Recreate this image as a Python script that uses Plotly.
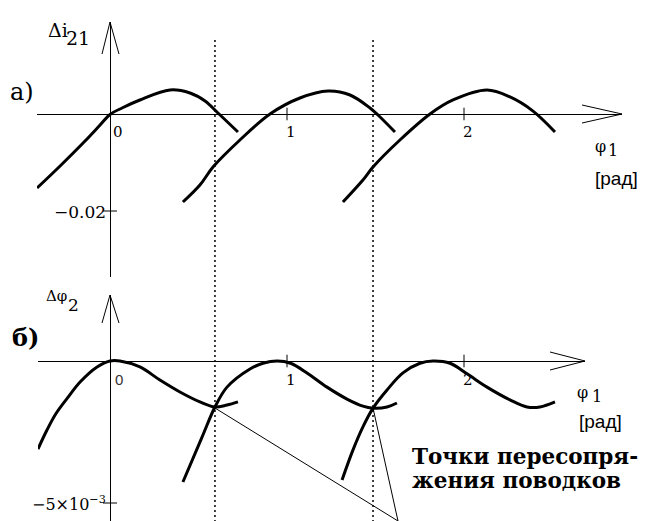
import plotly.graph_objects as go

# ---------------- data ----------------
# panel a) : delta i21 vs phi1 [rad], three branches
top_b1_x = [-0.412, -0.282, -0.141, -0.056, 0.0, 0.068, 0.169, 0.339, 0.452, 0.537, 0.610, 0.723]
top_b1_y = [-0.01526, -0.01072, -0.00557, -0.00227, -0.00010, 0.00124, 0.00289, 0.00495, 0.00433, 0.00268, 0.00021, -0.00371]
top_b2_x = [0.412, 0.508, 0.582, 0.734, 0.904, 1.073, 1.232, 1.356, 1.469, 1.514, 1.610]
top_b2_y = [-0.01814, -0.01464, -0.01093, -0.00536, 0.0, 0.00330, 0.00474, 0.00392, 0.00124, -0.00021, -0.00371]
top_b3_x = [1.316, 1.429, 1.486, 1.638, 1.808, 1.938, 2.130, 2.260, 2.390, 2.514]
top_b3_y = [-0.01814, -0.01361, -0.01093, -0.00536, 0.0, 0.00289, 0.00495, 0.00351, 0.00060, -0.00371]

# panel б) : delta phi2 vs phi1 [rad], three branches
bot_b1_x = [-0.407, -0.356, -0.305, -0.240, -0.169, -0.073, 0.0, 0.056, 0.169, 0.282, 0.395, 0.508, 0.593, 0.661, 0.723]
bot_b1_y = [-0.00310, -0.00243, -0.00185, -0.00130, -0.00074, -0.00021, 0.0, 0.0, -0.00021, -0.00067, -0.00109, -0.00144, -0.00162, -0.00155, -0.00144]
bot_b2_x = [0.412, 0.520, 0.593, 0.661, 0.791, 0.864, 0.945, 1.020, 1.113, 1.226, 1.339, 1.429, 1.486, 1.565, 1.621]
bot_b2_y = [-0.00426, -0.00268, -0.00162, -0.00092, -0.00028, -0.00008, 0.0, -0.00008, -0.00042, -0.00092, -0.00134, -0.00159, -0.00166, -0.00162, -0.00148]
bot_b3_x = [1.311, 1.373, 1.429, 1.486, 1.565, 1.655, 1.751, 1.825, 1.921, 2.017, 2.130, 2.260, 2.356, 2.429, 2.514]
bot_b3_y = [-0.00419, -0.00313, -0.00232, -0.00166, -0.00102, -0.00042, -0.00008, 0.0, -0.00008, -0.00045, -0.00092, -0.00137, -0.00162, -0.00162, -0.00144]

# tick positions / labels
top_xticks = [1, 2]
top_xtick_labels = ["1", "2"]
top_ytick = [-0.02]
top_ytick_label = ["\u22120.02"]
bot_xticks = [1, 2]
bot_xtick_labels = ["1", "2"]
bot_ytick = [-0.005]
bot_ytick_label = ["\u22125\u00d710<sup>\u22123</sup>"]

# switching (re-engagement) points
switch_x = [0.593, 1.486]

# ---------------- geometry ----------------
PAGE_OFF = 8                           # default page margin of the html body
W, H = 648 - PAGE_OFF, 521 - PAGE_OFF
X0, KX = 110.0, 177.0                  # pixel of phi=0, pixels per rad
TOP_Y0, TOP_KY = 114.0, 97.0 / 0.02    # top panel zero pixel, px per unit
BOT_Y0, BOT_KY = 361.0, 142.0 / 0.005  # bottom panel


def xd(px):
    return (px - X0) / KX


def ytop(py):
    return (TOP_Y0 - py) / TOP_KY


def ybot(py):
    return (BOT_Y0 - py) / BOT_KY


def pxp(px):
    return (px - PAGE_OFF) / W


def pyp(py):
    return 1 - (py - PAGE_OFF) / H


SERIF = "DejaVu Serif"
SANS = "Liberation Sans"
BLACK = "black"

fig = go.Figure()

for xs, ys in [(top_b1_x, top_b1_y), (top_b2_x, top_b2_y), (top_b3_x, top_b3_y)]:
    fig.add_trace(go.Scatter(x=xs, y=ys, mode="lines", line=dict(color=BLACK, width=3, shape="spline"),
                             xaxis="x", yaxis="y", showlegend=False, hoverinfo="skip"))
for xs, ys in [(bot_b1_x, bot_b1_y), (bot_b2_x, bot_b2_y), (bot_b3_x, bot_b3_y)]:
    fig.add_trace(go.Scatter(x=xs, y=ys, mode="lines", line=dict(color=BLACK, width=3, shape="spline"),
                             xaxis="x2", yaxis="y2", showlegend=False, hoverinfo="skip"))

# tick marks
tick_ns = dict(symbol="line-ns-open", size=9, color=BLACK, line=dict(color=BLACK, width=1))
tick_ew = dict(symbol="line-ew-open", size=10, color=BLACK, line=dict(color=BLACK, width=1))
fig.add_trace(go.Scatter(x=top_xticks, y=[0] * len(top_xticks), mode="markers", xaxis="x", yaxis="y",
                         marker=tick_ns, showlegend=False, hoverinfo="skip"))
fig.add_trace(go.Scatter(x=[0] * len(top_ytick), y=top_ytick, mode="markers", xaxis="x", yaxis="y",
                         marker=tick_ew, showlegend=False, hoverinfo="skip"))
fig.add_trace(go.Scatter(x=bot_xticks, y=[0] * len(bot_xticks), mode="markers", xaxis="x2", yaxis="y2",
                         marker=tick_ns, showlegend=False, hoverinfo="skip"))
fig.add_trace(go.Scatter(x=[0] * len(bot_ytick), y=bot_ytick, mode="markers", xaxis="x2", yaxis="y2",
                         marker=tick_ew, showlegend=False, hoverinfo="skip"))

shapes = []


def arrow(xref, yref, tip, e1, e2):
    for e in (e1, e2):
        shapes.append(dict(type="line", xref=xref, yref=yref, x0=e[0], y0=e[1], x1=tip[0], y1=tip[1],
                           line=dict(color=BLACK, width=1)))


arrow("x", "y", (xd(110), ytop(22)), (xd(102), ytop(54)), (xd(119), ytop(54)))
arrow("x", "y", (xd(622), ytop(114)), (xd(582), ytop(105)), (xd(582), ytop(123)))
arrow("x2", "y2", (xd(110), ybot(295)), (xd(102), ybot(323)), (xd(119), ybot(323)))
arrow("x2", "y2", (xd(585), ybot(361)), (xd(550), ybot(352)), (xd(550), ybot(370)))

# dotted verticals through switching points
for sx in switch_x:
    shapes.append(dict(type="line", xref="x", yref="paper", x0=sx, x1=sx, y0=pyp(40), y1=0,
                       line=dict(color=BLACK, width=1.5, dash="2px,3px")))

# leader lines to the note
for sx in switch_x:
    shapes.append(dict(type="line", xref="x2", yref="y2", x0=sx, y0=ybot(408), x1=xd(398), y1=ybot(521),
                       line=dict(color=BLACK, width=1)))

ann = []


def lab(text, x, y, size, family=SERIF, xanchor="center", bold=False):
    t = "<b>%s</b>" % text if bold else text
    ann.append(dict(text=t, x=pxp(x), y=pyp(y), xref="paper", yref="paper", showarrow=False,
                    xanchor=xanchor, yanchor="middle", font=dict(family=family, size=size, color=BLACK)))


# axis titles
lab("\u0394i", 46, 30, 19, xanchor="left")
lab("21", 64, 38, 19, xanchor="left")
lab("a)", 22, 92, 24)
lab("\u03c6", 600, 146, 16)
lab("1", 613, 150, 16)
lab("[\u0440\u0430\u0434]", 616, 179, 19, family=SANS)

lab("\u0394\u03c6", 44, 296, 15, xanchor="left")
lab("2", 66, 305, 17, xanchor="left")
lab("\u0431)", 25, 337, 24, bold=True)
lab("\u03c6", 582, 392, 16)
lab("1", 597, 396, 16)
lab("[\u0440\u0430\u0434]", 600, 421, 19, family=SANS)

lab("\u0422\u043e\u0447\u043a\u0438 \u043f\u0435\u0440\u0435\u0441\u043e\u043f\u0440\u044f-", 410, 456, 21.5,
    bold=True, xanchor="left")
lab("\u0436\u0435\u043d\u0438\u044f \u043f\u043e\u0432\u043e\u0434\u043a\u043e\u0432", 410, 480, 21.5,
    bold=True, xanchor="left")

# tick labels (data-anchored)
ann.append(dict(text="0", x=0, y=0, xref="x", yref="y", showarrow=False, xshift=8, yshift=-18,
                font=dict(family=SERIF, size=15, color=BLACK)))
for v, t in zip(top_xticks, top_xtick_labels):
    ann.append(dict(text=t, x=v, y=0, xref="x", yref="y", showarrow=False, xshift=4, yshift=-18,
                    font=dict(family=SERIF, size=15, color=BLACK)))
for v, t in zip(top_ytick, top_ytick_label):
    ann.append(dict(text=t, x=0, y=v, xref="x", yref="y", showarrow=False, xanchor="right", xshift=-2, yshift=-1,
                    font=dict(family=SERIF, size=17, color=BLACK)))
ann.append(dict(text="0", x=0, y=0, xref="x2", yref="y2", showarrow=False, xshift=9, yshift=-18,
                font=dict(family=SANS, size=15, color="#333")))
for v, t in zip(bot_xticks, bot_xtick_labels):
    ann.append(dict(text=t, x=v, y=0, xref="x2", yref="y2", showarrow=False, xshift=4, yshift=-19,
                    font=dict(family=SERIF, size=15, color=BLACK)))
for v, t in zip(bot_ytick, bot_ytick_label):
    ann.append(dict(text=t, x=0, y=v, xref="x2", yref="y2", showarrow=False, xanchor="right", xshift=-2, yshift=0,
                    font=dict(family=SERIF, size=16, color=BLACK)))

hidden = dict(showgrid=False, showticklabels=False, ticks="", showline=False,
              zeroline=True, zerolinecolor=BLACK, zerolinewidth=1, fixedrange=True)

fig.update_layout(
    width=W, height=H, margin=dict(l=0, r=0, t=0, b=0),
    paper_bgcolor="white", plot_bgcolor="rgba(0,0,0,0)",
    showlegend=False,
    xaxis=dict(domain=[pxp(37), pxp(622)], range=[xd(37), xd(622)], anchor="y", **hidden),
    yaxis=dict(domain=[pyp(277), pyp(22)], range=[ytop(277), ytop(22)], anchor="x", **hidden),
    xaxis2=dict(domain=[pxp(38), pxp(585)], range=[xd(38), xd(585)], anchor="y2", **hidden),
    yaxis2=dict(domain=[pyp(521), pyp(295)], range=[ybot(521), ybot(295)], anchor="x2", **hidden),
    shapes=shapes, annotations=ann,
)

fig.write_html("out.html")
